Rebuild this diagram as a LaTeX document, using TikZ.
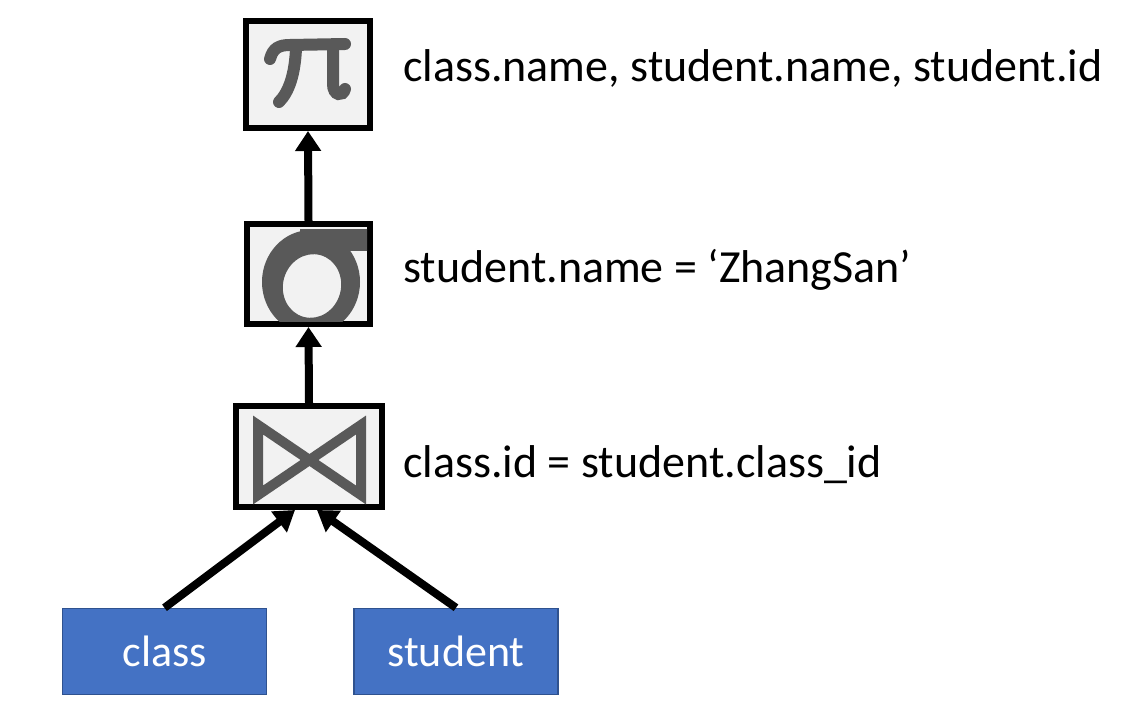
\documentclass[tikz,border=0pt]{standalone}
\usepackage{fontspec}
\setmainfont{Carlito}
\usetikzlibrary{arrows.meta}
\usetikzlibrary{calc}
\definecolor{opfill}{HTML}{F2F2F2}
\definecolor{opgray}{HTML}{595959}
\definecolor{relblue}{HTML}{4472C4}
\definecolor{relborder}{HTML}{2F528F}

\begin{document}
\begin{tikzpicture}
    [
    x=1pt, y=-1pt,
    arrow/.style={
        line width=8pt,
        -{Triangle[width=25pt,length=20pt]}
    },
    opbox/.style={
        draw,
        fill=opfill,
        rectangle,
        line width=6pt,
        inner sep=0pt
    },
    symstroke/.style={
        draw=opgray,
        line width=12pt,
        line cap=round
    },
    relbox/.style={
        draw=relborder,
        fill=relblue,
        rectangle,
        line width=1.5pt,
        minimum width=204pt,
        minimum height=86pt,
        text=white,
        font=\fontsize{44}{50}\selectfont
    },
    condtext/.style={
        anchor=base west,
        inner sep=0pt,
        font=\fontsize{46}{55}\selectfont
    },
    ]

    \useasboundingbox (0,0) rectangle (1122,714);

    % operator boxes
    \draw (308,74.5) node[opbox, minimum width=124pt, minimum height=107pt] (pi) {};
    \draw (308.5,274) node[opbox, minimum width=123pt, minimum height=100pt] (sigma) {};
    \draw (309,456.5) node[opbox, minimum width=146pt, minimum height=101pt] (join) {};

    % pi
    \draw[symstroke] (270,59) .. controls (273,48) and (279,45) .. (290,45) -- (345,44);
    \draw[symstroke] (296,48) .. controls (295,74) and (289,92) .. (279,102);
    \draw[symstroke] (333,48) -- (333,84) .. controls (333,96) and (343,97) .. (345,89);
    % sigma, cut off by the box
    \begin{scope}
        \clip ($(sigma.south west)+(6,-6)$) rectangle ($(sigma.north east)+(-6,6)$);
        \fill[opgray, even odd rule] (311,282) ellipse [x radius=49, y radius=52]
            (312,286) [rotate around={-15:(312,286)}] ellipse [x radius=29, y radius=32];
        \fill[opgray] (300,229) rectangle (380,251);
    \end{scope}
    % bowtie
    \draw[opgray, line width=10pt] ($(join.center)+(-51,-31.5)$) -- ($(join.center)+(52,38.5)$)
        -- ($(join.center)+(52,-31.5)$) -- ($(join.center)+(-51,38.5)$) -- cycle;

    % relations
    \draw (164.5,651.5) node[relbox] (class) {class};
    \draw (456,651.5) node[relbox] (student) {student};

    % conditions
    \node[condtext] (piText) at (403,82) {class.name, student.name, student.id};
    \node[condtext] (sigmaText) at (403,282) {student.name = ‘ZhangSan’};
    \node[condtext] (joinText) at (403,477) {class.id = student.class\_id};

    \draw [arrow] (sigma.north) -- (pi.south);
    \draw [arrow] (join.north) -- (sigma.south);
    \draw [arrow] (class.north) -- ([xshift=-14pt]join.south);
    \draw [arrow] (student.north) -- ([xshift=8pt]join.south);

\end{tikzpicture}
\end{document}
